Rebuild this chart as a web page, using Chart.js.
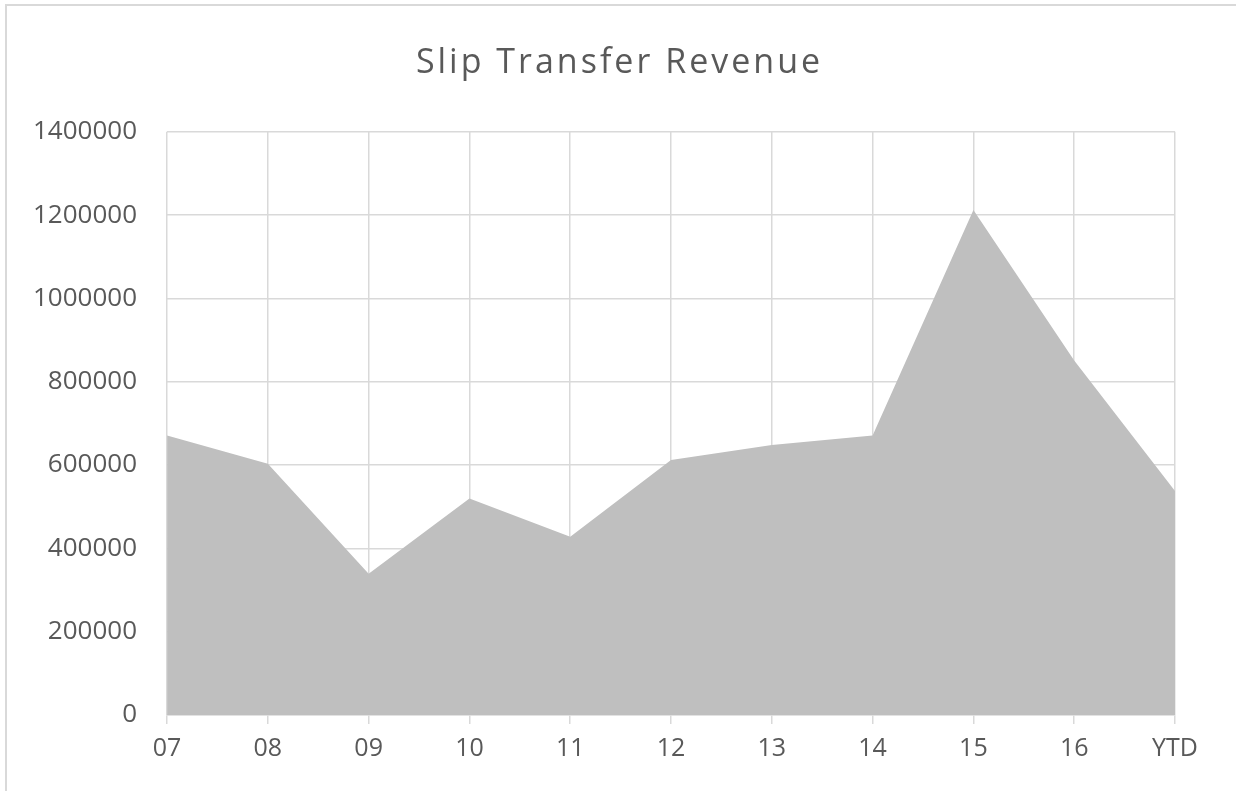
<!DOCTYPE html>
<html lang="en">
<head>
    <meta charset="UTF-8">
    <title>Slip Transfer Revenue</title>
    <style>
        html, body { margin: 0; padding: 0; background: #ffffff; overflow: hidden; }
        #wrap { position: relative; width: 1236px; height: 791px; }
        #frame {
            position: absolute; left: 5px; top: 4px; width: 1400px; height: 900px;
            border-top: 2px solid #d9d9d9; border-left: 2px solid #d9d9d9;
            pointer-events: none;
        }
    </style>
</head>
<body>
    <div id="wrap">
        <canvas id="areaChart" width="1236" height="791"></canvas>
        <div id="frame"></div>
    </div>

    <script src="https://cdn.jsdelivr.net/npm/chart.js"></script>
    <script>
        // 데이터
        const categories = ['07', '08', '09', '10', '11', '12', '13', '14', '15', '16', 'YTD'];
        const revenue = [671000, 603000, 339000, 520000, 428000, 612000, 648000, 671000, 1212000, 851000, 538000];
        const yTicks = [0, 200000, 400000, 600000, 800000, 1000000, 1200000, 1400000];

        const gridColor = '#d9d9d9';
        const textColor = '#595959';

        // 제목: 글자 간격 + 캔버스 가운데 정렬 (Excel 느낌)
        const spacedTitle = {
            id: 'spacedTitle',
            beforeDraw(chart) {
                const tb = chart.titleBlock;
                if (tb && !tb._spaced) {
                    const orig = tb.draw;
                    tb.draw = function () {
                        const c = this.ctx;
                        const dx = chart.width / 2 - (this.left + this.right) / 2;
                        c.save();
                        c.letterSpacing = '3px';
                        c.translate(dx + 1.5, 0);
                        orig.apply(this, arguments);
                        c.restore();
                    };
                    tb._spaced = true;
                }
            }
        };

        const ctx = document.getElementById('areaChart').getContext('2d');
        new Chart(ctx, {
            type: 'line',
            data: {
                labels: categories,
                datasets: [{
                    label: 'Revenue',
                    data: revenue,
                    fill: 'origin',
                    backgroundColor: '#bfbfbf',
                    borderWidth: 0,
                    borderColor: 'rgba(0,0,0,0)',
                    pointRadius: 0,
                    tension: 0
                }]
            },
            options: {
                responsive: false,
                animation: false,
                layout: { padding: { top: 0, left: 3, right: 61, bottom: 17 } },
                plugins: {
                    legend: { display: false },
                    tooltip: { enabled: false },
                    title: {
                        display: true,
                        text: 'Slip Transfer Revenue',
                        color: textColor,
                        font: { family: 'Open Sans', size: 34, weight: 'normal' },
                        padding: { top: 43, bottom: 48 }
                    }
                },
                scales: {
                    x: {
                        offset: false,
                        grid: { color: gridColor, lineWidth: 1.5, tickLength: 9, drawTicks: true },
                        border: { color: gridColor, width: 1.5 },
                        ticks: {
                            color: textColor,
                            font: { family: 'Open Sans', size: 25 },
                            padding: 10,
                            maxRotation: 0,
                            autoSkip: false
                        }
                    },
                    y: {
                        min: 0,
                        max: 1400000,
                        afterBuildTicks(scale) {
                            scale.ticks = yTicks.map(v => ({ value: v }));
                        },
                        grid: { color: gridColor, lineWidth: 1.5, drawTicks: false },
                        border: { display: false },
                        ticks: {
                            color: textColor,
                            font: { family: 'Open Sans', size: 26 },
                            padding: 30,
                            callback: v => String(v)
                        }
                    }
                }
            },
            plugins: [spacedTitle]
        });
    </script>
</body>
</html>
